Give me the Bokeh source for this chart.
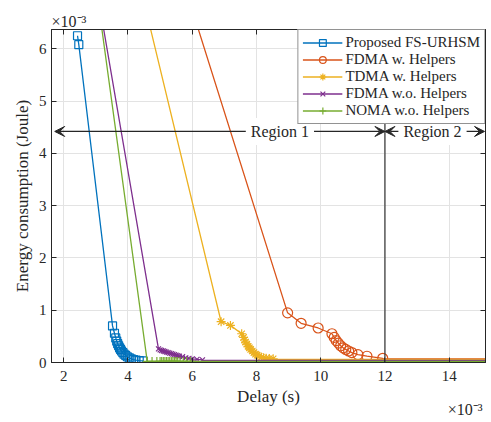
from bokeh.plotting import figure
from bokeh.models import (Range1d, LinearAxis, FixedTicker, Span, Arrow, VeeHead,
                          Label, Legend, LegendItem)
from bokeh.embed import file_html
from bokeh.resources import INLINE

# ---- data (delay in 1e-3 s, energy in 1e-3 J) ----
prop_x = [2.43, 2.47, 3.52, 3.58, 3.62, 3.65, 3.68, 3.71, 3.74, 3.77, 3.80, 3.84,
          3.88, 3.93, 3.98, 4.04, 4.10, 4.17, 4.25, 4.35, 4.47]
prop_y = [6.25, 6.08, 0.70, 0.56, 0.47, 0.41, 0.36, 0.32, 0.28, 0.25, 0.22, 0.19,
          0.16, 0.135, 0.11, 0.09, 0.07, 0.055, 0.045, 0.035, 0.03]

fdma_h_x = [5.87, 8.97, 9.39, 9.92, 10.35, 10.42, 10.48, 10.55, 10.62, 10.70, 10.78,
            10.87, 10.97, 11.16, 11.44, 11.93]
fdma_h_y = [7.00, 0.95, 0.75, 0.66, 0.55, 0.48, 0.42, 0.37, 0.32, 0.28, 0.25,
            0.22, 0.19, 0.15, 0.12, 0.08]

tdma_h_x = [4.46, 6.90, 7.19, 7.54, 7.60, 7.63, 7.66, 7.70, 7.74, 7.78, 7.82, 7.87,
            7.92, 7.97, 8.02, 8.08, 8.15, 8.22, 8.30, 8.40, 8.52]
tdma_h_y = [7.00, 0.78, 0.71, 0.55, 0.48, 0.43, 0.39, 0.35, 0.31, 0.28, 0.25, 0.22,
            0.19, 0.16, 0.14, 0.12, 0.10, 0.09, 0.08, 0.075, 0.07]

fdma_x = [3.07, 4.95, 5.00, 5.05, 5.10, 5.15, 5.20, 5.25, 5.30, 5.35, 5.40, 5.45,
          5.50, 5.55, 5.60, 5.70, 5.80, 5.90, 6.00, 6.15, 6.32]
fdma_y = [7.00, 0.26, 0.24, 0.23, 0.22, 0.21, 0.20, 0.19, 0.18, 0.17, 0.16, 0.15,
          0.14, 0.13, 0.12, 0.11, 0.09, 0.08, 0.07, 0.06, 0.05]

noma_x = [3.05, 4.60, 4.75, 4.90, 5.00, 5.05, 5.10, 5.15, 5.20, 5.25, 5.30, 5.35,
          5.40, 5.45, 5.50, 5.55, 5.62, 5.72, 5.82, 5.94]
noma_y = [7.00, 0.02, 0.02, 0.02, 0.02, 0.02, 0.02, 0.02, 0.02, 0.02, 0.02, 0.02,
          0.02, 0.02, 0.02, 0.02, 0.02, 0.02, 0.02, 0.02]

# flat tail levels reached beyond the last marker (energy, 1e-3 J)
tail_x = 16.0
tail_levels = {"prop": 0.01, "fdma_h": 0.07, "tdma_h": 0.06, "fdma": 0.04, "noma": 0.02}

x_ticks = [2, 4, 6, 8, 10, 12, 14]
y_ticks = [0, 1, 2, 3, 4, 5, 6]
region_boundary = 12.0
region_y = 4.42
multiplier = "×10⁻³"

FONT = "Liberation Serif"
AX = "#262626"

p = figure(width=490, height=420,
           x_range=Range1d(1.62, 15.13), y_range=Range1d(0, 6.37),
           output_backend="svg", toolbar_location=None,
           min_border_left=51, min_border_right=5, min_border_top=29, min_border_bottom=52)
p.background_fill_color = "white"
p.border_fill_color = "white"
p.outline_line_color = AX

# multiplier above the y axis (plot title slot, left aligned)
p.title.text = multiplier
p.title.align = "left"
p.title.standoff = 0
p.title.offset = 0
p.title.text_font = FONT
p.title.text_font_size = "16px"
p.title.text_font_style = "normal"
p.title.text_color = AX

for ax in (p.xaxis[0], p.yaxis[0]):
    ax.major_tick_in = 5
    ax.major_tick_out = 0
    ax.minor_tick_line_color = None
    ax.axis_line_color = AX
    ax.major_tick_line_color = AX
    ax.major_label_text_font = FONT
    ax.major_label_text_font_size = "15px"
    ax.major_label_text_color = AX
    ax.axis_label_text_font = FONT
    ax.axis_label_text_font_size = "17px"
    ax.axis_label_text_font_style = "normal"
    ax.axis_label_text_color = AX

p.xaxis.ticker = FixedTicker(ticks=x_ticks)
p.yaxis.ticker = FixedTicker(ticks=y_ticks)
p.xaxis.axis_label = "Delay (s)"
p.yaxis.axis_label = "Energy consumption (Joule)"
p.xaxis.major_label_standoff = 8
p.xaxis.axis_label_standoff = 3
p.yaxis.major_label_standoff = 5
p.yaxis.axis_label_standoff = 4

# box: ticks on top and right without labels
top_ax = LinearAxis(ticker=FixedTicker(ticks=x_ticks), major_tick_in=5, major_tick_out=0,
                    minor_tick_line_color=None, axis_line_color=AX, major_tick_line_color=AX,
                    major_label_text_font_size="1px", major_label_text_color=None,
                    major_label_standoff=0)
right_ax = LinearAxis(ticker=FixedTicker(ticks=y_ticks), major_tick_in=5, major_tick_out=0,
                      minor_tick_line_color=None, axis_line_color=AX, major_tick_line_color=AX,
                      major_label_text_font_size="1px", major_label_text_color=None,
                      major_label_standoff=0)
p.add_layout(top_ax, "above")
p.add_layout(right_ax, "right")

# multiplier at the right end of the x axis, on the level of the axis title
mult_ax = LinearAxis(ticker=FixedTicker(ticks=[14.5]), major_label_overrides={14.5: multiplier},
                     axis_line_color=None, major_tick_line_color=None, minor_tick_line_color=None,
                     major_label_standoff=-14, major_label_text_font=FONT,
                     major_label_text_font_size="16px", major_label_text_color=AX)
p.add_layout(mult_ax, "below")

p.xgrid.ticker = FixedTicker(ticks=x_ticks)
p.ygrid.ticker = FixedTicker(ticks=y_ticks)
p.grid.grid_line_color = "#e3e3e3"
p.grid.grid_line_width = 1

series = [
    ("Proposed FS-URHSM", prop_x, prop_y, "prop", "#0072BD", "square", 8),
    ("FDMA w. Helpers", fdma_h_x, fdma_h_y, "fdma_h", "#D95319", "circle", 10),
    ("TDMA w. Helpers", tdma_h_x, tdma_h_y, "tdma_h", "#EDB120", "asterisk", 9),
    ("FDMA w.o. Helpers", fdma_x, fdma_y, "fdma", "#7E2F8E", "x", 7),
    ("NOMA w.o. Helpers", noma_x, noma_y, "noma", "#77AC30", "cross", 9),
]

items = []
for name, xs, ys, key, col, mk, sz in series:
    lx = xs + [xs[-1], tail_x]
    ly = ys + [tail_levels[key], tail_levels[key]]
    lr = p.line(lx, ly, line_color=col, line_width=1.3)
    sr = p.scatter(xs, ys, marker=mk, size=sz, line_color=col, fill_color=None, line_width=1.2)
    items.append(LegendItem(label=name, renderers=[lr, sr]))

# region boundary and arrows
p.add_layout(Span(location=region_boundary, dimension="height", line_color="#333333", line_width=1.2))
head = dict(size=10, fill_color=AX, line_color=AX)
p.add_layout(Arrow(x_start=region_boundary, y_start=region_y, x_end=1.72, y_end=region_y,
                   line_color=AX, line_width=1.2,
                   start=VeeHead(**head), end=VeeHead(**head)))
p.add_layout(Arrow(x_start=region_boundary, y_start=region_y, x_end=15.1, y_end=region_y,
                   line_color=AX, line_width=1.2,
                   start=VeeHead(**head), end=VeeHead(**head)))
p.add_layout(Label(x=8.73, y=region_y, text="Region 1", text_align="center", text_baseline="middle",
                   text_font=FONT, text_font_size="16px", text_color=AX,
                   background_fill_color="white", padding=5))
p.add_layout(Label(x=13.48, y=region_y, text="Region 2", text_align="center", text_baseline="middle",
                   text_font=FONT, text_font_size="16px", text_color=AX,
                   background_fill_color="white", padding=5))

legend = Legend(items=items, location="top_right", margin=0, padding=4, spacing=0,
                glyph_width=40, glyph_height=17, label_height=17, label_standoff=3,
                label_text_font=FONT, label_text_font_size="15px", label_text_color=AX,
                border_line_color=AX, border_line_width=1, background_fill_alpha=1.0)
p.add_layout(legend, "center")

open("out.html", "w").write(file_html(p, INLINE))
